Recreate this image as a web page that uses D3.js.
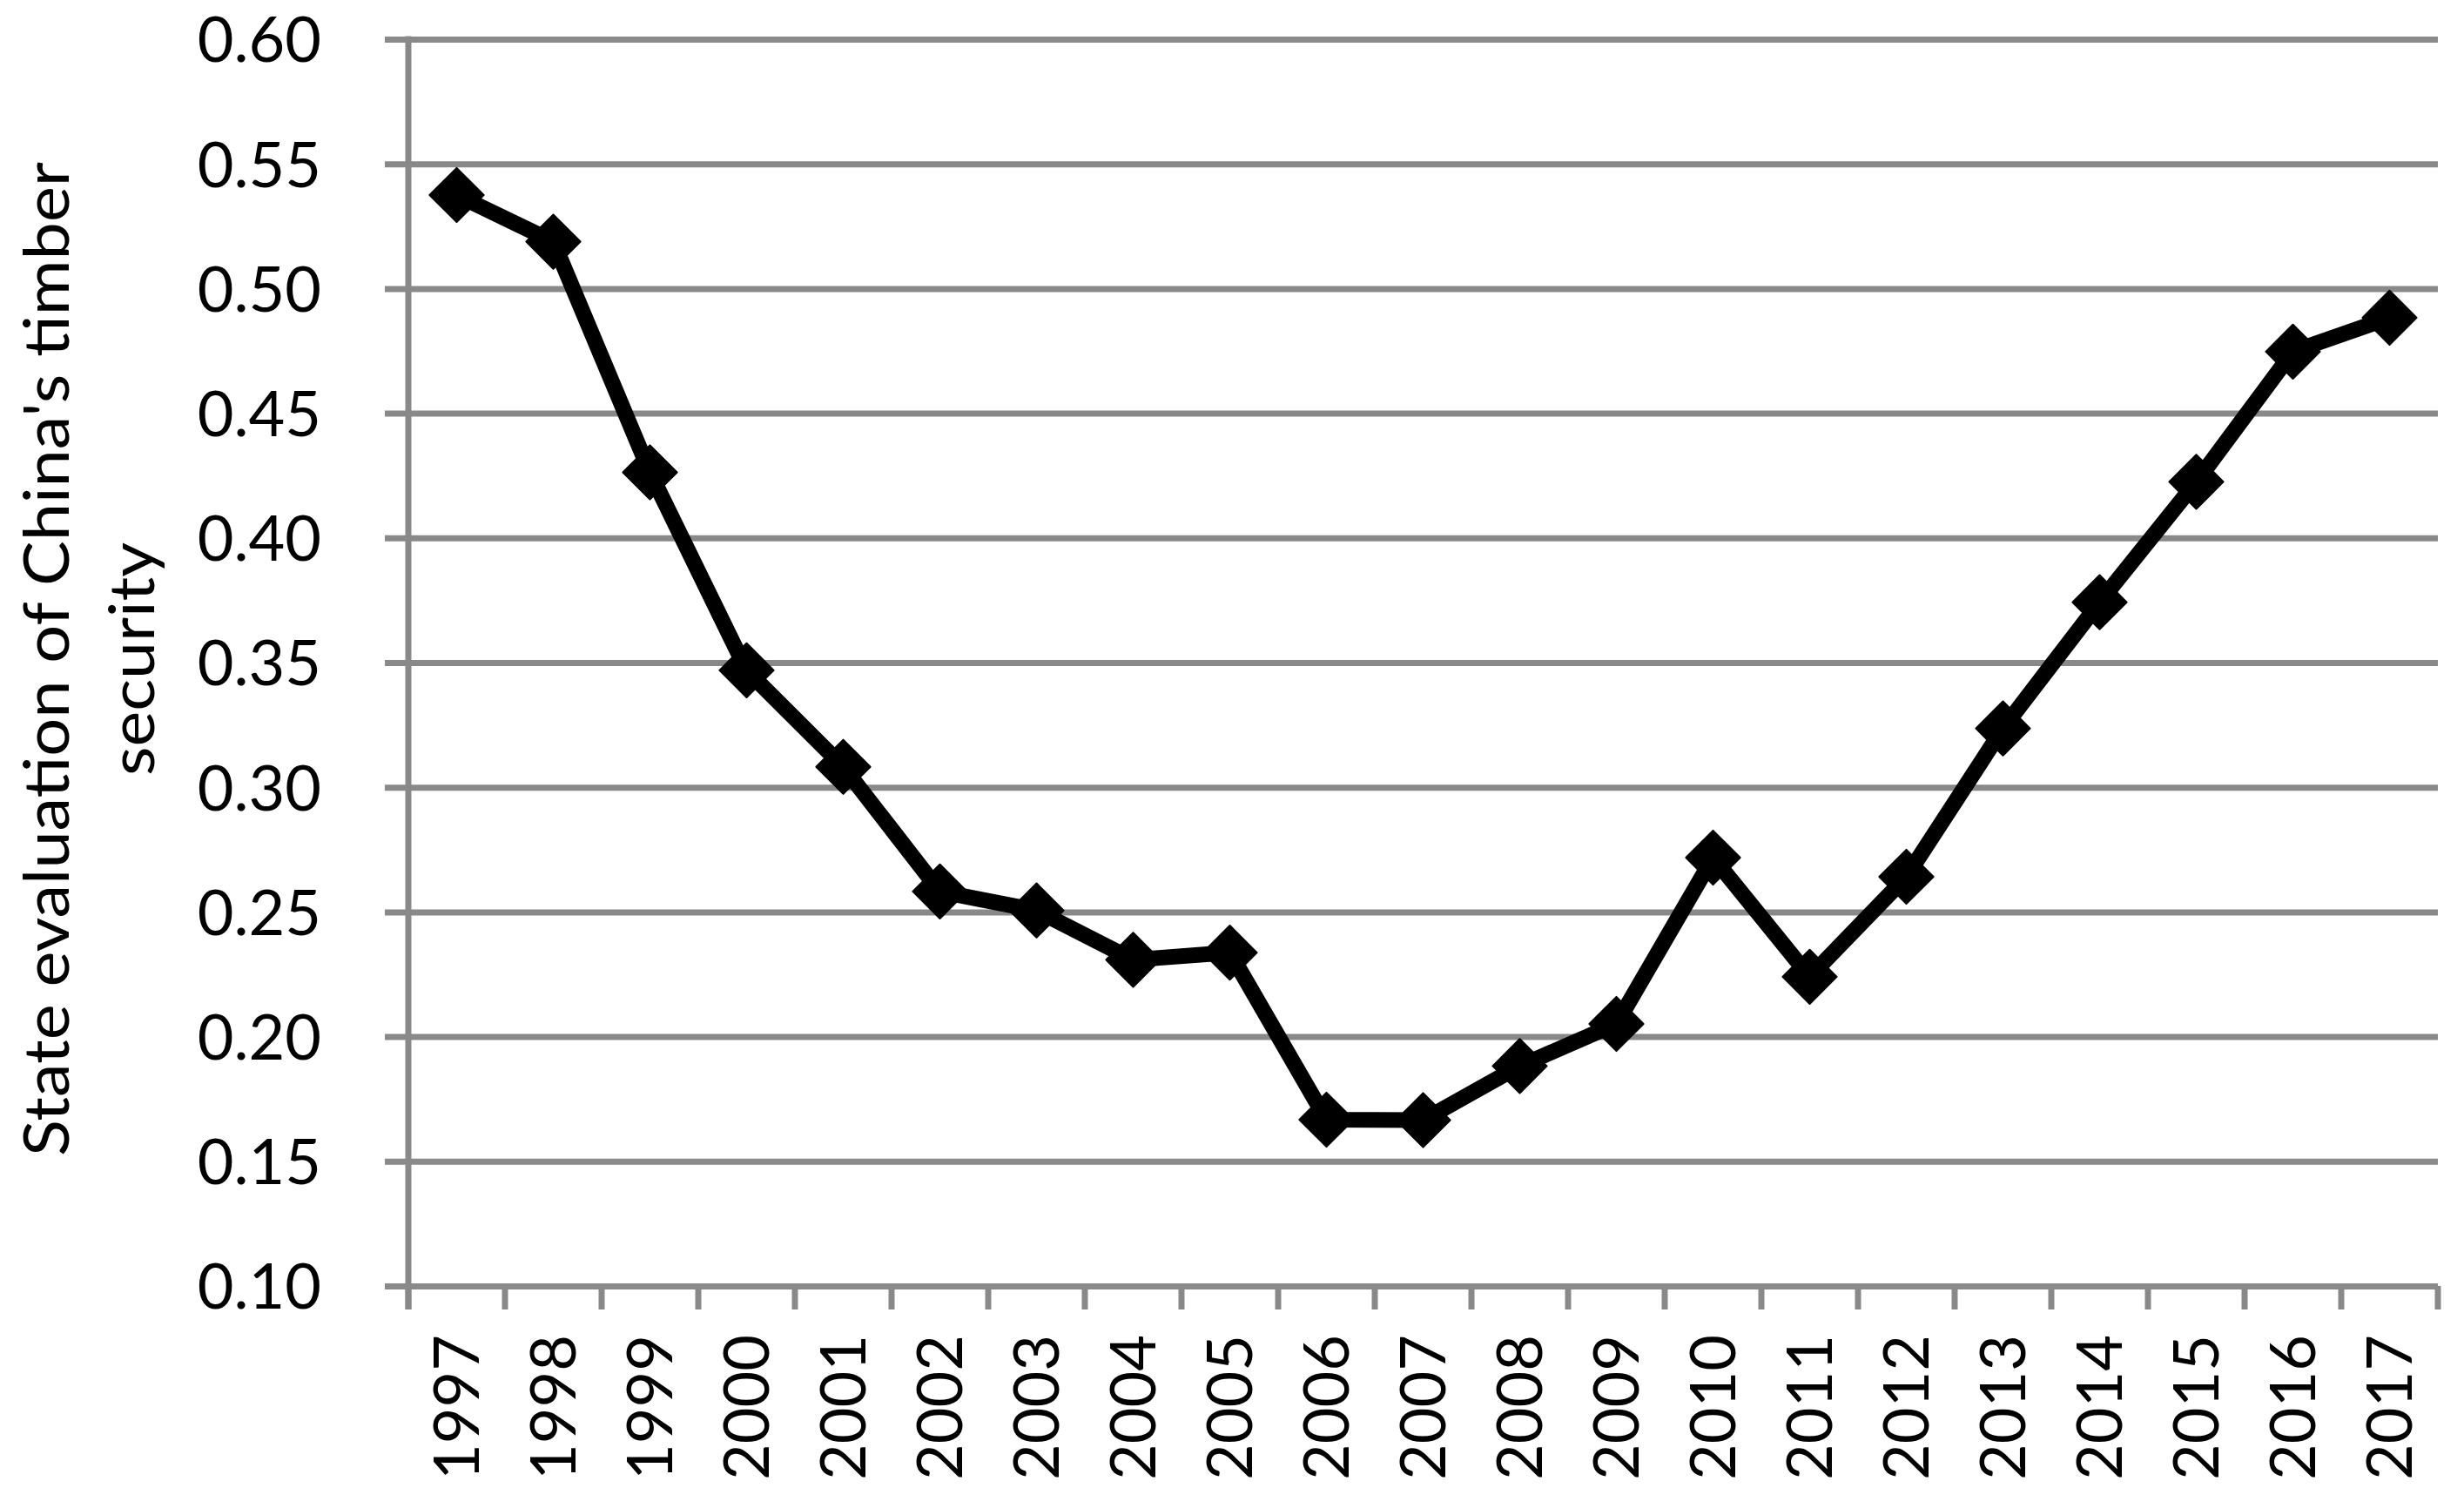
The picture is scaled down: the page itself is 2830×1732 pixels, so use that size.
<!DOCTYPE html>
<html>
<head>
<meta charset="utf-8">
<script src="https://cdn.jsdelivr.net/npm/d3@7"></script>
<style>
  html, body { margin: 0; padding: 0; background: #fff; }
  svg { display: block; }
  text { font-family: Lato, "Open Sans", sans-serif; fill: #000; }
</style>
</head>
<body>
<svg id="chart" width="2830" height="1732"></svg>
<script>
// ---- data ----
const years = ["1997","1998","1999","2000","2001","2002","2003","2004","2005","2006","2007",
               "2008","2009","2010","2011","2012","2013","2014","2015","2016","2017"];
const values = [0.5375, 0.5188, 0.4263, 0.3469, 0.3082, 0.2582, 0.2506, 0.2308, 0.2337, 0.1667, 0.1665,
                0.1882, 0.2051, 0.2718, 0.2240, 0.2641, 0.3236, 0.3742, 0.4225, 0.4747, 0.4883];
const yTicks = [0.10, 0.15, 0.20, 0.25, 0.30, 0.35, 0.40, 0.45, 0.50, 0.55, 0.60];
const yTitleLines = ["State evaluation of China's timber", "security"];

// ---- layout ----
(function () {
const W = 2830, H = 1732;
const pLeft = 469, pRight = 2800, pTop = 45, pBottom = 1477;
const tickLen = 27;
const gridColor = "#898989";
const gridWidth = 7;
const fontSize = 72;
const titleLengths = [1142, 268];

const svg = d3.select("#chart");
svg.append("rect").attr("width", W).attr("height", H).attr("fill", "#fff");

const x = d3.scaleBand().domain(years).range([pLeft, pRight]).padding(0);
const y = d3.scaleLinear().domain([0.10, 0.60]).range([pBottom, pTop]);

// horizontal gridlines + y tick labels
const yAxis = d3.axisLeft(y)
  .tickValues(yTicks)
  .tickFormat(d => d.toFixed(2))
  .tickSizeInner(-(pRight - (pLeft - tickLen)))
  .tickSizeOuter(0)
  .tickPadding(pLeft - tickLen - 369);
const gy = svg.append("g").attr("transform", `translate(${pLeft - tickLen},0)`).call(yAxis);
gy.select(".domain").remove();
gy.selectAll(".tick line").attr("stroke", gridColor).attr("stroke-width", gridWidth);
gy.selectAll(".tick text")
  .attr("font-size", fontSize)
  .attr("font-family", "Lato, 'Open Sans', sans-serif")
  .attr("dy", "0.36em")
  .attr("fill", "#000");

// vertical y-axis line (extends down to tick length)
svg.append("line")
  .attr("x1", pLeft).attr("x2", pLeft)
  .attr("y1", pTop - gridWidth / 2).attr("y2", pBottom + tickLen)
  .attr("stroke", gridColor).attr("stroke-width", gridWidth);

// x axis tick marks at category edges
const edges = years.map(d => x(d)).concat([x.range()[1]]);
svg.append("g").selectAll("line").data(edges).join("line")
  .attr("x1", d => d).attr("x2", d => d)
  .attr("y1", pBottom).attr("y2", pBottom + tickLen)
  .attr("stroke", gridColor).attr("stroke-width", gridWidth);

// x axis labels (rotated)
const xAxis = d3.axisBottom(x).tickSize(0).tickSizeOuter(0);
const gx = svg.append("g").attr("transform", `translate(0,${pBottom})`).call(xAxis);
gx.select(".domain").remove();
gx.selectAll(".tick text")
  .attr("font-size", fontSize)
  .attr("font-family", "Lato, 'Open Sans', sans-serif")
  .attr("fill", "#000")
  .attr("transform", "rotate(-90)")
  .attr("text-anchor", "end")
  .attr("x", -56)
  .attr("y", 0)
  .attr("dy", "0.36em");

// y axis title (two lines, rotated)
const titleCy = 757;
const tg = svg.append("g").attr("transform", `translate(79,${titleCy}) rotate(-90)`);
tg.selectAll("text").data(yTitleLines).join("text")
  .attr("x", 0)
  .attr("y", (d, i) => i * 98)
  .attr("text-anchor", "middle")
  .attr("font-size", fontSize)
  .attr("textLength", (d, i) => titleLengths[i])
  .attr("lengthAdjust", "spacingAndGlyphs")
  .text(d => d);

// data line
const cx = d => x(d) + x.bandwidth() / 2;
const line = d3.line().x((d, i) => cx(years[i])).y(d => y(d));
svg.append("path")
  .datum(values)
  .attr("d", line)
  .attr("fill", "none")
  .attr("stroke", "#000")
  .attr("stroke-width", 18)
  .attr("stroke-linejoin", "round");

// diamond markers
const sym = d3.symbol().type(d3.symbolSquare).size(44 * 44);
svg.append("g").selectAll("path").data(values).join("path")
  .attr("d", sym)
  .attr("transform", (d, i) => `translate(${cx(years[i])},${y(d)}) rotate(45)`)
  .attr("fill", "#000")
  .attr("stroke", "#000")
  .attr("stroke-width", 2)
  .attr("stroke-linejoin", "round");
})();
</script>
</body>
</html>
